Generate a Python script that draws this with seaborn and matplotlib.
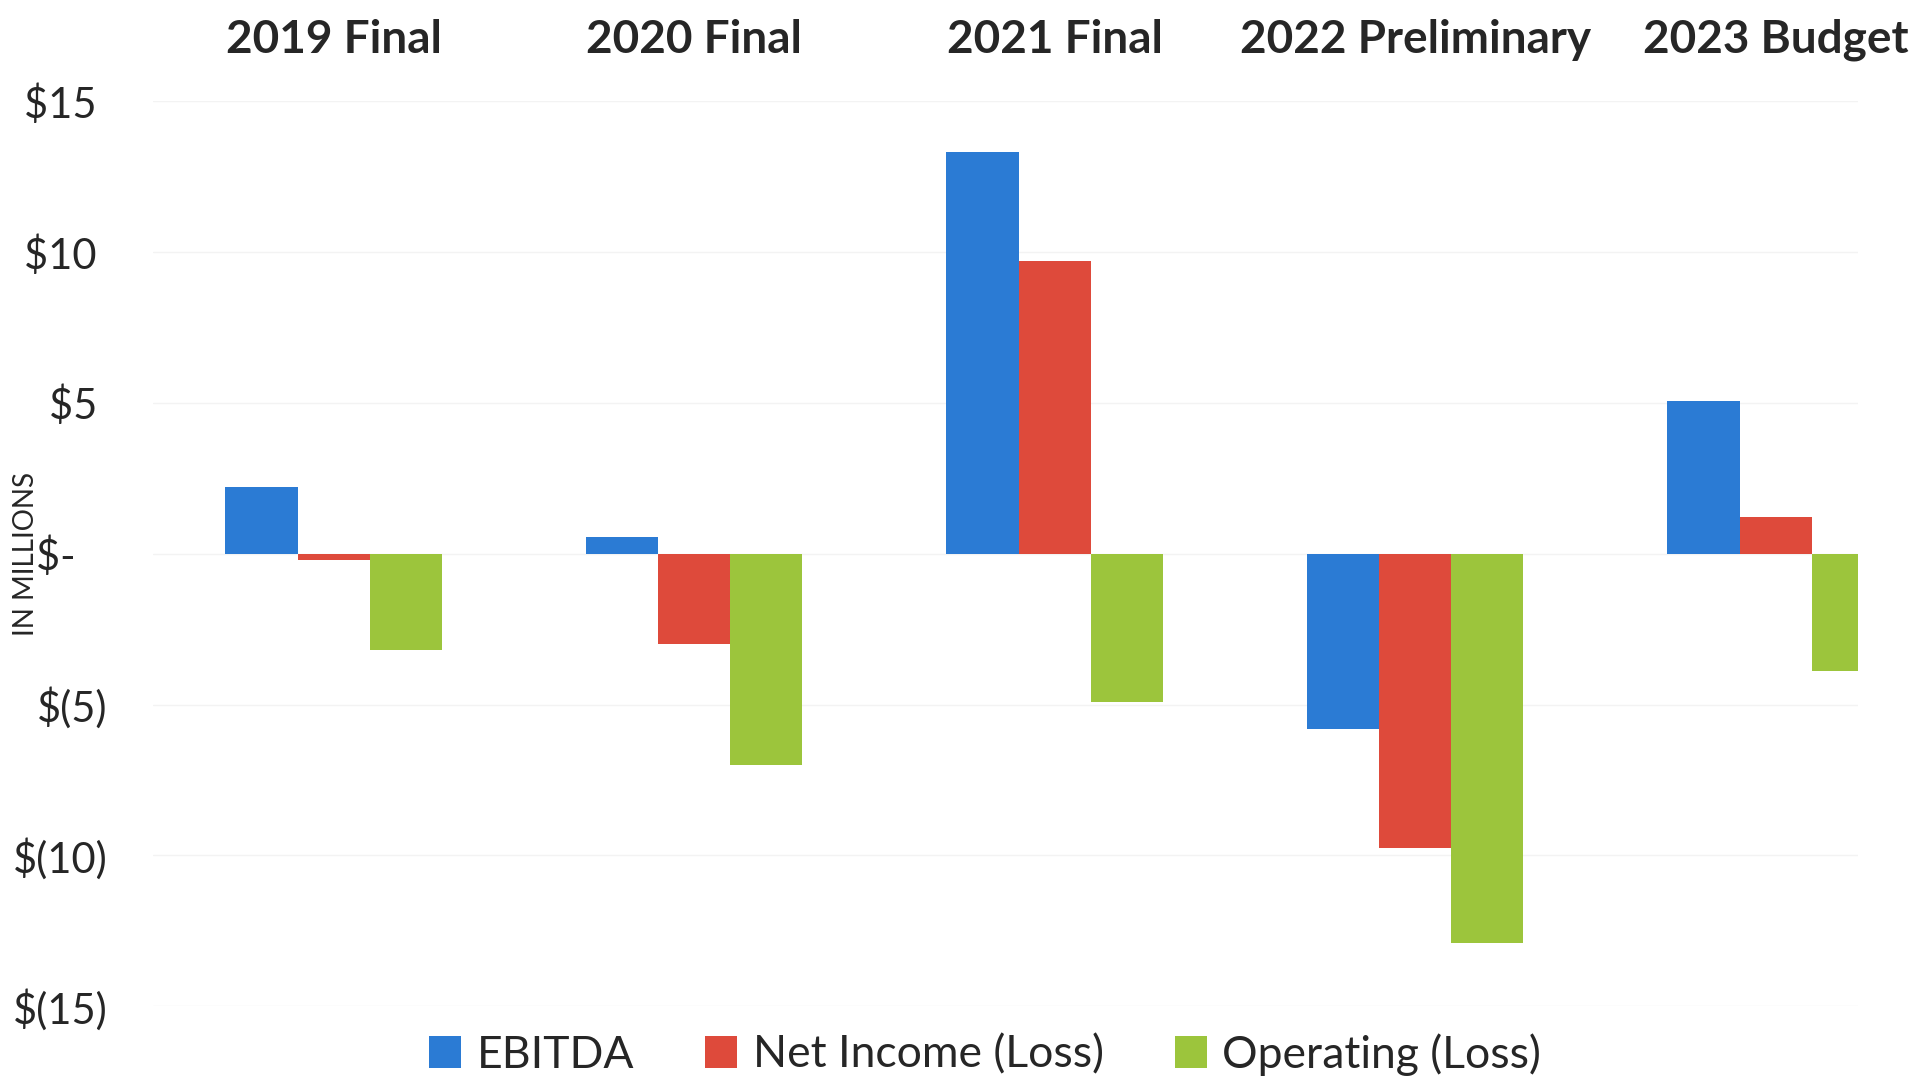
import pandas as pd
import seaborn as sns
import matplotlib.pyplot as plt

# values in $ millions
periods = ["2019 Final", "2020 Final", "2021 Final", "2022 Preliminary", "2023 Budget"]
ebitda = [2.2, 0.55, 13.3, -5.8, 5.05]
net_income = [-0.2, -3.0, 9.7, -9.75, 1.2]
operating = [-3.2, -7.0, -4.9, -12.9, -3.9]
metrics = ["EBITDA", "Net Income (Loss)", "Operating (Loss)"]
colors = ["#2B7BD4", "#DE4A3B", "#9CC53C"]
ytick_vals = [15, 10, 5, 0, -5, -10, -15]
ytick_labels = ["$15 ", "$10 ", "$5 ", "$-   ", "$(5)", "$(10)", "$(15)"]

df = pd.DataFrame({
    "Period": periods * 3,
    "Value": ebitda + net_income + operating,
    "Metric": [m for m in metrics for _ in periods],
})

sns.set_theme(style="white")
plt.rcParams["font.family"] = ["Lato", "DejaVu Sans"]

fig = plt.figure(figsize=(19.16, 10.83), dpi=100)
ax = fig.add_axes([153.4 / 1916, 0.0708, (1858 - 153.4) / 1916, 0.836])

sns.barplot(data=df, x="Period", y="Value", hue="Metric", order=periods,
            hue_order=metrics, palette=colors, width=0.6, saturation=1,
            linewidth=0, ax=ax)

ax.set_xlim(-0.5, (1858 - 333.6) / 360.5)
ax.set_ylim(-15, 15)
ax.set_yticks(ytick_vals)
ax.set_yticklabels(ytick_labels, fontsize=30, color="#262626")
ax.xaxis.tick_top()
ax.set_xticks(range(len(periods)))
ax.set_xticklabels(periods, fontsize=33, fontweight="bold", color="#262626")
ax.tick_params(axis="x", length=0, pad=29)
ax.tick_params(axis="y", length=0, pad=33)
ax.set_xlabel("")
ax.set_ylabel("")
for s in ax.spines.values():
    s.set_visible(False)
ax.yaxis.grid(True, color="#f3f3f3", lw=1)
ax.set_axisbelow(True)

fig.text(26 / 1916, 1 - 554 / 1083, "IN MILLIONS", rotation=90, fontsize=20,
         ha="center", va="center", color="#262626")

handles, labels = ax.get_legend_handles_labels()
ax.get_legend().remove()
fig.legend(handles, labels, loc="lower center", bbox_to_anchor=(985 / 1916, -0.022),
           ncol=3, frameon=False, fontsize=32, handlelength=0.72, handleheight=0.72,
           handletextpad=0.35, columnspacing=1.6, borderpad=0.2, labelcolor="#262626")

fig.savefig("out.png", dpi=100)
